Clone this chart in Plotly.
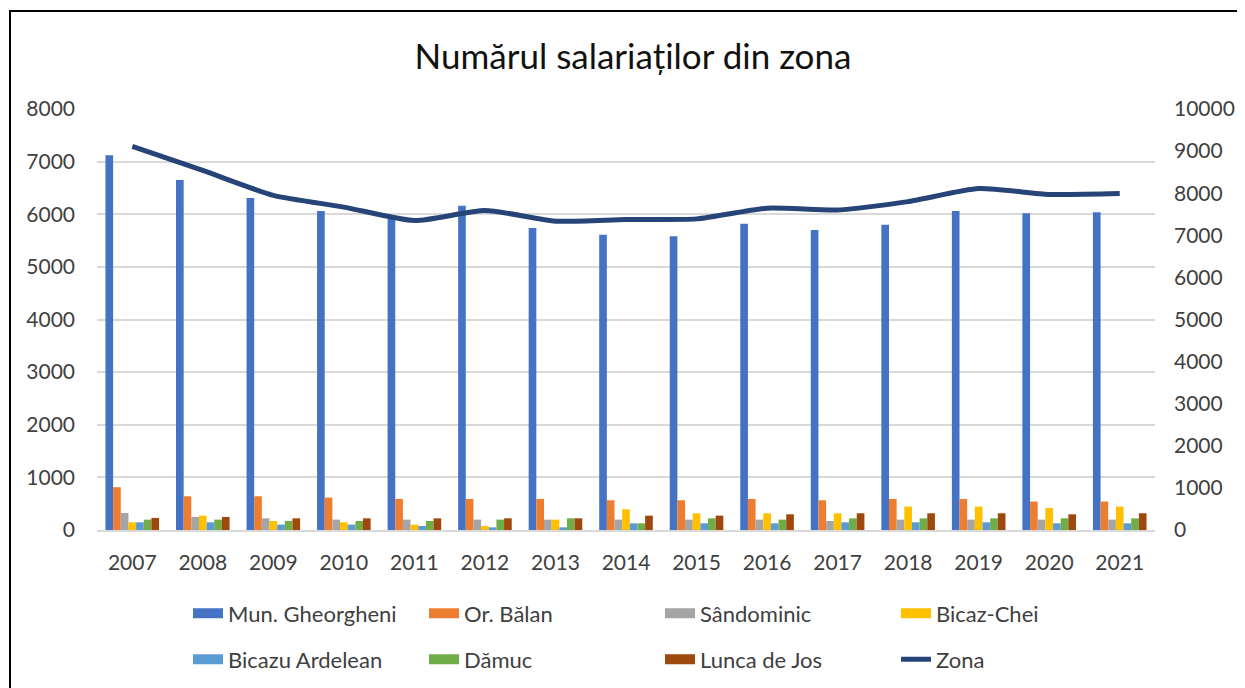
import plotly.graph_objects as go

years = ["2007", "2008", "2009", "2010", "2011", "2012", "2013", "2014",
         "2015", "2016", "2017", "2018", "2019", "2020", "2021"]

gheorgheni = [7120, 6650, 6310, 6060, 5910, 6160, 5740, 5610, 5580, 5820, 5700, 5800, 6060, 6020, 6040]
balan = [813, 641, 641, 616, 590, 590, 590, 565, 565, 590, 565, 590, 590, 540, 540]
sandominic = [324, 248, 222, 197, 197, 197, 197, 197, 197, 197, 171, 197, 197, 197, 197]
bicaz_chei = [146, 273, 171, 146, 102, 76, 197, 394, 318, 318, 318, 445, 445, 419, 445]
bicazu_ardelean = [146, 146, 102, 102, 76, 51, 51, 127, 127, 127, 146, 146, 146, 127, 127]
damuc = [197, 197, 171, 171, 171, 197, 222, 127, 222, 197, 222, 222, 222, 222, 222]
lunca_de_jos = [229, 248, 222, 222, 222, 222, 222, 273, 273, 298, 318, 318, 318, 298, 318]
zona = [9110, 8540, 7950, 7670, 7350, 7590, 7335, 7375, 7390, 7645, 7600, 7800, 8110, 7970, 7990]

bar_series = [
    ("Mun. Gheorgheni", gheorgheni, "#4472C4", "legend"),
    ("Or. Bălan", balan, "#ED7D31", "legend"),
    ("Sândominic", sandominic, "#A5A5A5", "legend"),
    ("Bicaz-Chei", bicaz_chei, "#FFC000", "legend"),
    ("Bicazu Ardelean", bicazu_ardelean, "#5B9BD5", "legend2"),
    ("Dămuc", damuc, "#70AD47", "legend2"),
    ("Lunca de Jos", lunca_de_jos, "#9E480E", "legend2"),
]

FONT = "Lato, 'Liberation Sans', sans-serif"
OFF = 8  # page body margin
W, H = 1245 - OFF, 688 - OFF
# plot area in page pixels
PL, PR, PT, PB = 97, 1155, 109, 530.5
L, R, T, B = PL - OFF, PR - OFF, PT - OFF, PB - OFF

fig = go.Figure()
for name, vals, color, lg in bar_series:
    fig.add_trace(go.Bar(x=years, y=vals, name=name, marker_color=color,
                         marker_line_width=0, legendgroup=name, showlegend=False,
                         hovertemplate=name + " %{x}: %{y}<extra></extra>"))
    # legend proxy (wide colour swatch like the original)
    fig.add_trace(go.Scatter(x=[None], y=[None], mode="lines", name=name,
                             line=dict(color=color, width=11), legendgroup=name,
                             legend=lg, hoverinfo="skip"))

fig.add_trace(go.Scatter(x=years, y=zona, name="Zona", mode="lines", yaxis="y2",
                         line=dict(color="#264478", width=5, shape="spline", smoothing=0.6),
                         legend="legend2"))

def px_x(p):  # page px -> paper
    return (p - PL) / (PR - PL)

def px_y(p):
    return (PB - p) / (PB - PT)

legend_common = dict(orientation="h", xanchor="left", yanchor="middle",
                     entrywidth=191, entrywidthmode="pixels",
                     font=dict(family=FONT, size=22, color="#404040"),
                     bgcolor="rgba(0,0,0,0)")

fig.update_layout(
    width=W, height=H,
    margin=dict(l=L, r=W - R, t=T, b=H - B, autoexpand=False),
    paper_bgcolor="white", plot_bgcolor="white",
    font=dict(family=FONT, color="#404040"),
    title=dict(text="Numărul salariaților din zona", x=px_x(633), xanchor="center",
               y=1 - (57 - OFF) / H, yanchor="middle", xref="paper",
               font=dict(family=FONT, size=35, color="#111111")),
    barmode="group", bargap=0.24, bargroupgap=0,
    xaxis=dict(type="category", showgrid=False, showline=True, linecolor="#D9D9D9",
               linewidth=2, ticks="", tickfont=dict(family=FONT, size=21, color="#404040"),
               ticklabelstandoff=13),
    yaxis=dict(range=[0, 8000], dtick=1000, showgrid=True, gridcolor="#D9D9D9",
               gridwidth=1.5, zeroline=False, ticks="", showline=False,
               tickformat="d",
               tickfont=dict(family=FONT, size=21, color="#404040"),
               ticklabelstandoff=21),
    yaxis2=dict(range=[0, 10000], dtick=1000, overlaying="y", side="right",
                showgrid=False, zeroline=False, ticks="", showline=False,
                tickformat="d",
                tickfont=dict(family=FONT, size=21, color="#404040"),
                ticklabelstandoff=18),
    legend=dict(x=px_x(188), y=px_y(614), **legend_common),
    legend2=dict(x=px_x(188), y=px_y(660), **legend_common),
    shapes=[dict(type="rect", xref="paper", yref="paper",
                 x0=px_x(10), x1=px_x(1300), y0=px_y(760), y1=px_y(11),
                 line=dict(color="black", width=2), fillcolor="rgba(0,0,0,0)",
                 layer="above")],
)

fig.write_html("out.html")
